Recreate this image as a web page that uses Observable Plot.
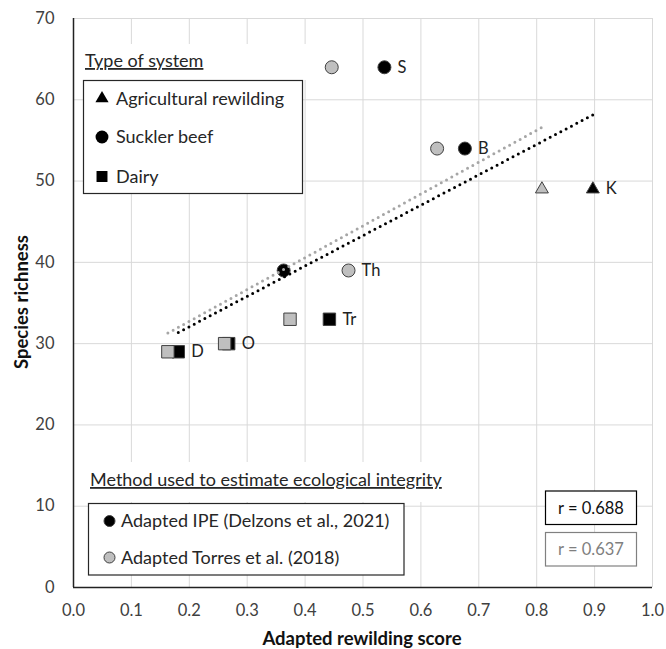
<!DOCTYPE html>
<html><head><meta charset="utf-8">
<script src="https://cdn.jsdelivr.net/npm/d3@7"></script>
<script src="https://cdn.jsdelivr.net/npm/@observablehq/plot@0.6"></script>
<style>
body{margin:0;background:#fff;}
svg{font-family:Lato, "Open Sans", sans-serif;}
</style>
</head><body><div id="chart"></div>
<script>
// ---- data ----
const systems = ["D", "O", "Tr", "Th", "S", "B", "K"];
const systemType = ["Dairy", "Dairy", "Dairy", "Suckler beef", "Suckler beef", "Suckler beef", "Agricultural rewilding"];
const richness = [29, 30, 33, 39, 64, 54, 49];
const scoreIPE = [0.181, 0.268, 0.442, 0.363, 0.537, 0.676, 0.897];
const scoreTorres = [0.163, 0.261, 0.374, 0.475, 0.446, 0.628, 0.809];
const typeNames = ["Agricultural rewilding", "Suckler beef", "Dairy"];
const typeSymbols = ["triangle", "circle", "square"];
const methodNames = ["Adapted IPE (Delzons et al., 2021)", "Adapted Torres et al. (2018)"];
const rLabels = ["r = 0.688", "r = 0.637"];
const xTicks = [0, 0.1, 0.2, 0.3, 0.4, 0.5, 0.6, 0.7, 0.8, 0.9, 1.0];
const yTicks = [0, 10, 20, 30, 40, 50, 60, 70];

const rows = systems.map((s, i) => ({
  system: s, type: systemType[i], richness: richness[i],
  ipe: scoreIPE[i], torres: scoreTorres[i],
  labelX: Math.max(scoreIPE[i], scoreTorres[i])
}));

const symbolR = {"Agricultural rewilding": 4.8, "Suckler beef": 6.5, "Dairy": 7};
const BLACK = "#000000", GREY = "#bfbfbf", EDGE = "#404040", LINEGREY = "#a6a6a6";

function dotsFor(xField, fill) {
  return typeNames.map(t => Plot.dot(rows.filter(d => d.type === t), {
    x: xField, y: "richness", symbol: "type", r: symbolR[t],
    fill, stroke: EDGE, strokeWidth: 1
  }));
}

const W = 666, H = 649;
const chart = Plot.plot({
  width: W, height: H,
  marginLeft: 73, marginRight: 14, marginTop: 18, marginBottom: 62,
  style: {fontSize: "16.5px", background: "#fff"},
  x: {domain: [0, 1]},
  y: {domain: [0, 70]},
  symbol: {domain: typeNames, range: typeSymbols},
  marks: [
    Plot.gridX(xTicks, {stroke: "#d9d9d9", strokeOpacity: 1, strokeWidth: 1}),
    Plot.gridY(yTicks, {stroke: "#d9d9d9", strokeOpacity: 1, strokeWidth: 1}),
    Plot.ruleX([0], {stroke: "#222", strokeWidth: 1.5}),
    Plot.ruleY([0], {stroke: "#222", strokeWidth: 1.5}),
    ...dotsFor("ipe", BLACK),
    ...dotsFor("torres", GREY),
    Plot.linearRegressionY(rows, {x: "torres", y: "richness", ci: 0, stroke: LINEGREY,
      strokeWidth: 3, strokeDasharray: "0,6", strokeLinecap: "round"}),
    Plot.linearRegressionY(rows, {x: "ipe", y: "richness", ci: 0, stroke: BLACK,
      strokeWidth: 3, strokeDasharray: "0,6", strokeLinecap: "round"}),
    Plot.text(rows, {x: "labelX", y: "richness", text: "system", textAnchor: "start",
      dx: 13, fill: "#222", fontSize: 16.5}),
    Plot.axisX(xTicks, {tickSize: 0, tickPadding: 17, tickFormat: d3.format(".1f"), fill: "#404040", label: null}),
    Plot.axisY(yTicks, {tickSize: 0, tickPadding: 19, fill: "#404040", label: null})
  ]
});
document.getElementById("chart").appendChild(chart);

// ---- overlays: axis titles, legends, r boxes ----
const svg = d3.select(chart);
const g = svg.append("g").attr("font-family", "Lato, 'Open Sans', sans-serif").attr("text-anchor", "start");
const FS = 18;

g.append("text").attr("transform", "translate(28,302) rotate(-90)")
  .attr("text-anchor", "middle").attr("font-weight", "bold").attr("font-size", 18.5)
  .attr("fill", "#111").text("Species richness");
g.append("text").attr("x", 362).attr("y", 645)
  .attr("text-anchor", "middle").attr("font-weight", "bold").attr("font-size", 18.5)
  .attr("fill", "#111").text("Adapted rewilding score");

function sym(name, size) { return d3.symbol(d3["symbol" + name[0].toUpperCase() + name.slice(1)], size)(); }

// legend 1
g.append("rect").attr("x", 78).attr("y", 44).attr("width", 228).attr("height", 36).attr("fill", "#fff");
g.append("text").attr("x", 85).attr("y", 67).attr("font-size", FS).attr("fill", "#262626")
  .attr("text-decoration", "underline").text("Type of system");
g.append("rect").attr("x", 83.5).attr("y", 80.5).attr("width", 219).attr("height", 113)
  .attr("fill", "#fff").attr("stroke", "#262626").attr("stroke-width", 1.2);
const l1y = [98.5, 137, 176.5];
const l1size = [75, 130, 120];
typeNames.forEach((t, i) => {
  g.append("path").attr("d", sym(typeSymbols[i], l1size[i]))
    .attr("transform", `translate(102,${l1y[i]})`).attr("fill", "#000");
  g.append("text").attr("x", 116).attr("y", l1y[i] + 6).attr("font-size", FS).attr("fill", "#262626").text(t);
});

// legend 2
g.append("rect").attr("x", 85).attr("y", 462).attr("width", 372).attr("height", 40).attr("fill", "#fff");
g.append("text").attr("x", 90).attr("y", 486).attr("font-size", FS).attr("fill", "#262626")
  .attr("text-decoration", "underline").text("Method used to estimate ecological integrity");
g.append("rect").attr("x", 88.5).attr("y", 503.5).attr("width", 315.5).attr("height", 71.5)
  .attr("fill", "#fff").attr("stroke", "#262626").attr("stroke-width", 1.2);
const l2y = [521, 557.5];
const l2fill = [BLACK, GREY];
methodNames.forEach((m, i) => {
  g.append("circle").attr("cx", 109.5).attr("cy", l2y[i]).attr("r", 5.5)
    .attr("fill", l2fill[i]).attr("stroke", EDGE).attr("stroke-width", 1);
  g.append("text").attr("x", 121).attr("y", l2y[i] + 6).attr("font-size", FS).attr("fill", "#262626").text(m);
});

// r boxes
const rBoxY = [491, 532.5];
const rColor = ["#000", "#808080"];
rLabels.forEach((r, i) => {
  g.append("rect").attr("x", 545.5).attr("y", rBoxY[i]).attr("width", 91).attr("height", 33.5)
    .attr("fill", "#fff").attr("stroke", rColor[i]).attr("stroke-width", 1.2);
  g.append("text").attr("x", 591).attr("y", rBoxY[i] + 22.5).attr("text-anchor", "middle")
    .attr("font-size", 16.5).attr("fill", i === 0 ? "#111" : "#7f7f7f").text(r);
});
</script>
</body></html>
